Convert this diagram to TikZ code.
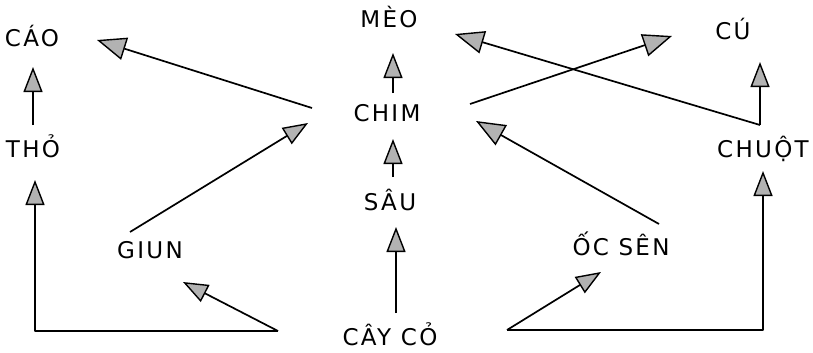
\documentclass[tikz,border=0pt]{standalone}
\usepackage{fontspec}
\setmainfont{DejaVu Sans}[LetterSpace=10]
\usetikzlibrary{arrows.meta}
\begin{document}
\begin{tikzpicture}[x=1pt,y=-1pt,
  lbl/.style={font=\fontsize{23}{26}\selectfont, inner sep=0pt, anchor=base},
  arr/.style={line width=1.7pt, line join=round,
    -{Triangle[length=25pt,width=19pt,fill=gray!60,line width=1.4pt]}},
  bigarr/.style={line width=1.7pt, line join=round,
    -{Triangle[length=29pt,width=23pt,fill=gray!60,line width=1.4pt]}}]
\useasboundingbox (0,0) rectangle (813,353);
% labels
\node[lbl] (cao)   at (32,47)  {CÁO};
\node[lbl] (tho)   at (33,157) {THỎ};
\node[lbl] (meo)   at (389,28) {MÈO};
\node[lbl] (chim)  at (387,121) {CHIM};
\node[lbl] (sau)   at (390,210) {SÂU};
\node[lbl] (cay)   at (390,345) {CÂY CỎ};
\node[lbl] (giun)  at (150,258) {GIUN};
\node[lbl] (oc)    at (621,255) {ỐC SÊN};
\node[lbl] (cu)    at (733,40)  {CÚ};
\node[lbl] (chuot) at (763,157) {CHUỘT};
% connector end points
\coordinate (rootL) at (278,331);
\coordinate (rootR) at (507,330);
\coordinate (thoIn) at (35,180);
\coordinate (thoOut) at (33,125);
\coordinate (caoIn) at (33,67);
\coordinate (caoInR) at (97,40);
\coordinate (giunIn) at (183,282);
\coordinate (giunOut) at (130,232);
\coordinate (chimInL) at (308,123);
\coordinate (chimOutL) at (312,108);
\coordinate (chimOutU) at (393,93);
\coordinate (meoIn) at (393,53);
\coordinate (sauOut) at (393,177);
\coordinate (chimInD) at (393,139);
\coordinate (cayOut) at (396,313);
\coordinate (sauIn) at (396,227);
\coordinate (chimOutR) at (470,104);
\coordinate (cuInL) at (672,36);
\coordinate (chuotOut) at (760,125);
\coordinate (meoInR) at (455,34);
\coordinate (cuIn) at (760,62);
\coordinate (ocOut) at (659,224);
\coordinate (chimInR) at (476,121);
\coordinate (chuotIn) at (763,171);
\coordinate (ocIn) at (601,272);
% connectors
\draw[arr] (rootL) -| (thoIn);
\draw[arr] (rootL) -- (giunIn);
\draw[arr] (thoOut) -- (caoIn);
\draw[arr] (giunOut) -- (chimInL);
\draw[bigarr] (chimOutL) -- (caoInR);
\draw[arr] (chimOutU) -- (meoIn);
\draw[arr] (sauOut) -- (chimInD);
\draw[arr] (cayOut) -- (sauIn);
\draw[bigarr] (chimOutR) -- (cuInL);
\draw[bigarr] (chuotOut) -- (meoInR);
\draw[arr] (chuotOut) -- (cuIn);
\draw[bigarr] (ocOut) -- (chimInR);
\draw[arr] (rootR) -| (chuotIn);
\draw[arr] (rootR) -- (ocIn);
\end{tikzpicture}
\end{document}
